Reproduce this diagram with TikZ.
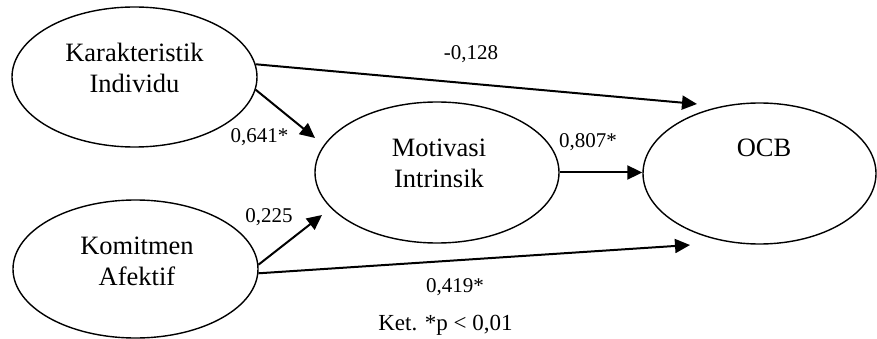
\documentclass[tikz,border=0pt]{standalone}
\usepackage{fontspec}
\setmainfont{Liberation Serif}
\usetikzlibrary{shapes.geometric,arrows.meta}

\begin{document}
\begin{tikzpicture}[x=1pt,y=-1pt,
  construct/.style={draw, ellipse, line width=1.4pt, inner sep=0pt},
  caption/.style={align=center, anchor=north, inner sep=0pt,
    font=\fontsize{26.5}{31}\selectfont},
  coef/.style={anchor=base, inner sep=0pt, font=\fontsize{21}{25}\selectfont},
  note/.style={anchor=base, inner sep=0pt, font=\fontsize{23}{27}\selectfont},
  effect/.style={line width=2pt, -{Triangle[length=15pt,width=14pt]}}
]
\useasboundingbox (0,0) rectangle (877,339);

% latent constructs
\node[construct, minimum width=245pt, minimum height=140pt] (ki)  at (134.5,77)  {};
\node[construct, minimum width=245pt, minimum height=138pt] (ka)  at (135.5,269) {};
\node[construct, minimum width=244pt, minimum height=141pt] (mi)  at (437,172.5) {};
\node[construct, minimum width=233pt, minimum height=141pt] (ocb) at (759.5,173.5) {};

% construct names
\node[caption] (ki-t)  at (134.5,43)  {Karakteristik\\Individu};
\node[caption] (ka-t)  at (137,237)   {Komitmen\\Afektif};
\node[caption] (mi-t)  at (439,139)   {Motivasi\\Intrinsik};
\node[caption] (ocb-t) at (764,139)   {OCB};

% free arrow ends
\coordinate (tipA) at (697,104);
\coordinate (tipB) at (315,138);
\coordinate (tipC) at (322,215);
\coordinate (tipD) at (690,245);

% structural paths
\draw[effect] (ki.6)    -- (tipA);
\draw[effect] (ki.-6)   -- (tipB);
\draw[effect] (ka.2.5)  -- (tipC);
\draw[effect] (ka.-2.5) -- (tipD);
\draw[effect] (mi.east) -- (mi.east -| ocb.west);

% path coefficients
\node[coef] (c-ki-ocb) at (471,60)    {-0,128};
\node[coef] (c-ki-mi)  at (259.5,143) {0,641*};
\node[coef] (c-ka-mi)  at (269,222)   {0,225};
\node[coef] (c-mi-ocb) at (588,148)   {0,807*};
\node[coef] (c-ka-ocb) at (455,292)   {0,419*};
\node[note] (ket)      at (445.5,330) {Ket. *p < 0,01};
\end{tikzpicture}
\end{document}
